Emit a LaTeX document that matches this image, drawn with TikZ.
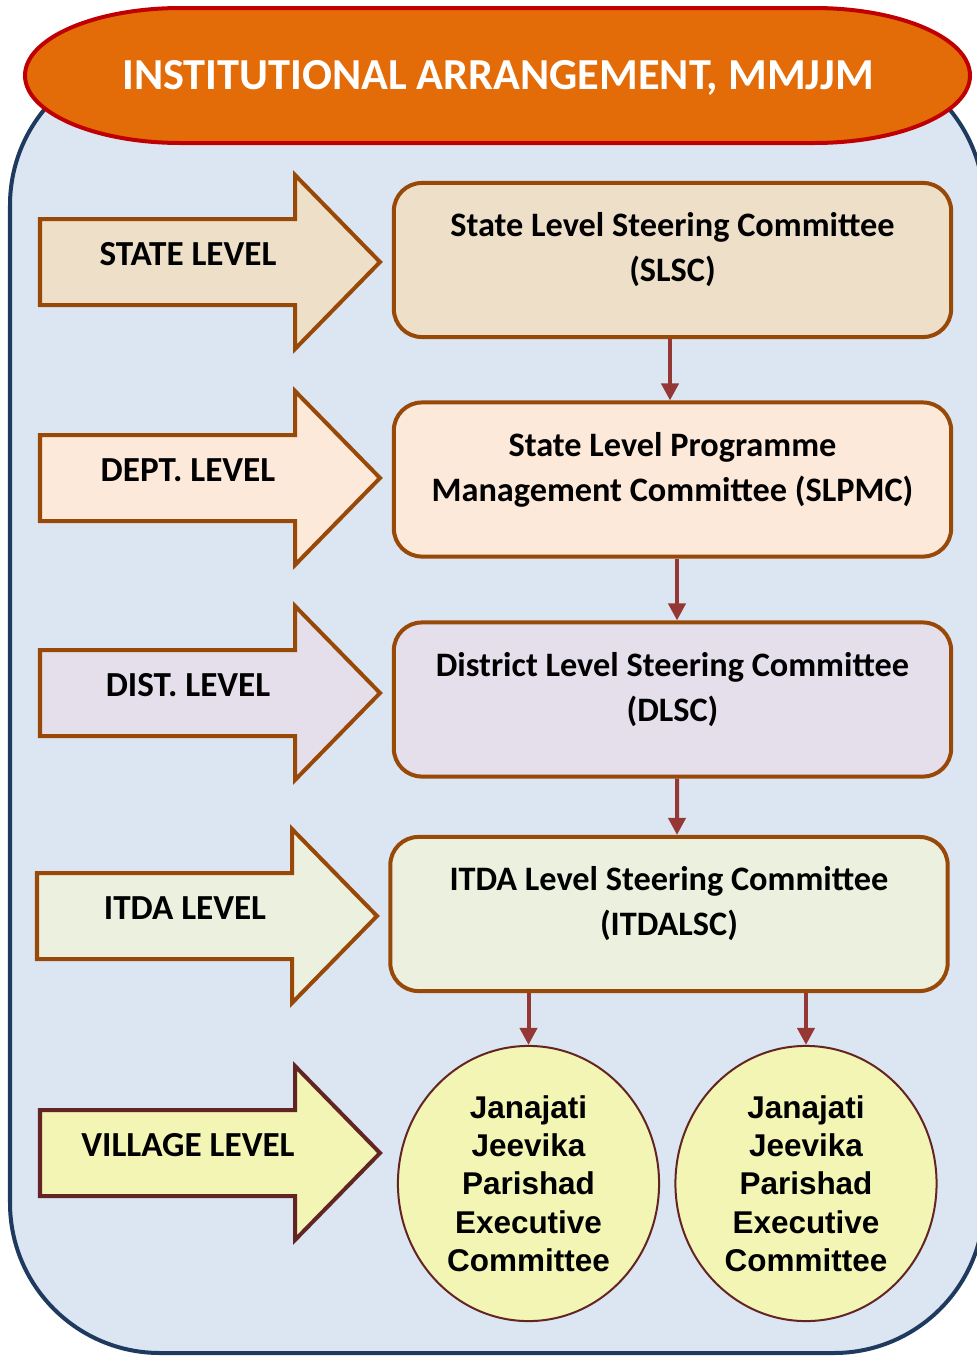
\documentclass[tikz,border=0pt]{standalone}
\usepackage{fontspec}
\setmainfont{Carlito}
\newfontfamily\arialfont{Liberation Sans}
\usepackage{tikz}
\usetikzlibrary{positioning}
\usetikzlibrary{arrows.meta,shapes.geometric}
\usetikzlibrary{calc}

\definecolor{bgfill}{HTML}{DCE6F2}
\definecolor{bgline}{HTML}{1F3A5F}
\definecolor{titlefill}{HTML}{E36C09}
\definecolor{titleline}{HTML}{C00000}
\definecolor{brownline}{HTML}{984807}
\definecolor{maroonline}{HTML}{632523}
\definecolor{linkred}{HTML}{953735}
\definecolor{statefill}{HTML}{EEDFC9}
\definecolor{deptfill}{HTML}{FDE9D9}
\definecolor{distfill}{HTML}{E5DFEC}
\definecolor{itdafill}{HTML}{EBF1DE}
\definecolor{villfill}{HTML}{F3F5B5}

\tikzstyle{levelarrow}=[line width=0.04cm, line join=miter]
\tikzstyle{leveltext}=[anchor=base, inner sep=0pt, font=\fontsize{10}{12}\selectfont\bfseries]
\tikzstyle{titletext}=[anchor=base, inner sep=0pt, text=white, font=\fontsize{12.6}{15}\selectfont\bfseries]
\tikzstyle{committee}=[rectangle, rounded corners=0.28cm, draw=brownline, line width=0.04cm, minimum width=5.57cm, minimum height=1.54cm, inner sep=0pt]
\tikzstyle{committeetext}=[anchor=north, align=center, inner sep=0pt, font=\fontsize{9.75}{12.8}\selectfont\bfseries]
\tikzstyle{jjp}=[ellipse, draw=maroonline, line width=0.02cm, fill=villfill, minimum width=2.61cm, minimum height=2.75cm, inner sep=0pt, align=center, font=\arialfont\fontsize{8.95}{10.9}\selectfont\bfseries]
\tikzstyle{link}=[draw=linkred, line width=0.04cm, -{Triangle[length=0.17cm,width=0.17cm]}]

\begin{document}
\begin{tikzpicture}[x=0.01cm, y=-0.01cm]

 \useasboundingbox (0,0) rectangle (977,1357);

 % panel
 \draw[draw=bgline, fill=bgfill, line width=0.04cm, rounded corners=1.5cm] (10,55) rectangle (984,1353);

 % title
 \draw[fill=titlefill, draw=titleline, line width=0.04cm] (181,8) -- (814,8)
   arc[start angle=-90, end angle=90, x radius=156, y radius=67.5] -- (181,143)
   arc[start angle=90, end angle=270, x radius=156, y radius=67.5] -- cycle;
 \node[titletext] (title) at (498,89) {INSTITUTIONAL ARRANGEMENT, MMJJM};

 % level arrows
 \foreach \tx/\ty/\lx/\fillc/\linec/\name/\label in {380/262/188/statefill/brownline/state/STATE LEVEL,
          380/478/188/deptfill/brownline/dept/DEPT. LEVEL,
          380/693/188/distfill/brownline/dist/DIST. LEVEL,
          377/916/185/itdafill/brownline/itda/ITDA LEVEL,
          380/1153/188/villfill/maroonline/village/VILLAGE LEVEL}
 {
   \draw[levelarrow, fill=\fillc, draw=\linec] (\tx-340,\ty-43) -- (\tx-85,\ty-43) -- (\tx-85,\ty-87)
     -- (\tx,\ty) -- (\tx-85,\ty+87) -- (\tx-85,\ty+43) -- (\tx-340,\ty+43) -- cycle;
   \node[leveltext] (\name) at (\lx,\ty+3) {\label};
 }

 % committees
 \foreach \x/\y/\name/\fillc/\label in {672.5/260/slsc/statefill/{State Level Steering Committee\\(SLSC)},
          672.5/479.5/slpmc/deptfill/{State Level Programme\\Management Committee (SLPMC)},
          672.5/699.5/dlsc/distfill/{District Level Steering Committee\\(DLSC)},
          669/914/itdalsc/itdafill/{ITDA Level Steering Committee\\(ITDALSC)}}
 {
   \node[committee, fill=\fillc] (\name) at (\x,\y) {};
   \node[committeetext] (\name-t) at ([yshift=-0.31cm]\name.north) {\label};
 }

 % village committees
 \node[jjp] (jjp1) at (528.5,1183.5) {Janajati\\Jeevika\\Parishad\\Executive\\Committee};
 \node[jjp] (jjp2) at (806,1183.5) {Janajati\\Jeevika\\Parishad\\Executive\\Committee};

 % links
 \draw[link] ([xshift=-0.025cm]slsc.south) -- ([xshift=-0.025cm]slpmc.north);
 \draw[link] ([xshift=0.045cm]slpmc.south) -- ([xshift=0.045cm]dlsc.north);
 \draw[link] ([xshift=0.045cm]dlsc.south) -- ([xshift=0.08cm]itdalsc.north);
 \foreach \dest in {jjp1,jjp2}
   \draw[link] (\dest.north |- itdalsc.south) -- (\dest.north);

\end{tikzpicture}
\end{document}
